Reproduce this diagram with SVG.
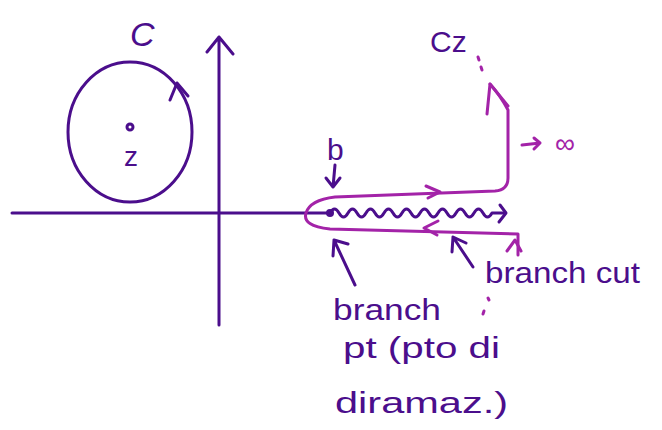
<svg xmlns="http://www.w3.org/2000/svg" width="662" height="430" viewBox="0 0 662 430">
<style>
.d{fill:none;stroke:#4B0E8C;stroke-width:3;stroke-linecap:round;stroke-linejoin:round}
.m{fill:none;stroke:#A323A8;stroke-width:3;stroke-linecap:round;stroke-linejoin:round}
.t{fill:#4B0E8C;font-family:"Liberation Sans",sans-serif}
.tm{fill:#A323A8;font-family:"Liberation Sans",sans-serif}
</style>
<rect width="662" height="430" fill="#ffffff"/>
<g id="axes">
<path class="d" d="M12,213 L330,213"/>
<path class="d" d="M219,325 L219,37 M207,52 L219,37 L233,54"/>
</g>
<g id="circle-C">
<ellipse class="d" cx="130" cy="132" rx="62" ry="70"/>
<path class="d" stroke-width="4" d="M170,100 L177,83 L188,96"/>
<text class="t" x="130" y="46" font-size="34" font-style="italic">C</text>
<circle cx="130" cy="127" r="3" fill="none" stroke="#4B0E8C" stroke-width="3"/>
<text class="t" x="124" y="166" font-size="28">z</text>
</g>
<g id="branch-cut">
<circle cx="330" cy="213" r="4" fill="#4B0E8C"/>
<path class="d" stroke-width="4" d="M330,213 q4.5,-8 9,0 t9,0 t9,0 t9,0 t9,0 t9,0 t9,0 t9,0 t9,0 t9,0 t9,0 t9,0 t9,0 t9,0 t9,0 t9,0 t9,0 t9,0 L503,213"/>
<path class="d" d="M500,205 L506,213 L499,222"/>
</g>
<g id="contour-Cz">
<path class="m" d="M518,255 L518,234 L330,229 Q302,226 306,213 Q310,200 335,197 L495,191 Q508,190 508,178 L508,110 Q500,95 490,84"/>
<path class="m" d="M426,186 L440,192 L428,198"/>
<path class="m" d="M438,221 L424,228 L437,235"/>
<path class="m" d="M507,251 L515,240 L521,251"/>
<path class="m" stroke-width="4" d="M487,114 L490,84 L508,106"/>
<path class="m" d="M478,57 L479,60 M481,67 L482,70"/>
<path class="m" d="M488,298 L489,300 M484,311 L483,314"/>
<text class="t" x="430" y="52" font-size="30">Cz</text>
</g>
<g id="to-infinity">
<path class="m" d="M522,145 L540,143 M534,138 L540,143 L534,149"/>
<text class="tm" x="555" y="153" font-size="28">∞</text>
</g>
<g id="label-b">
<text class="t" x="327" y="160" font-size="30">b</text>
<path class="d" d="M335,165 L333,187 M326,178 L333,187 L340,178"/>
</g>
<g id="label-branch-pt">
<path class="d" d="M355,285 L334,240 M333,256 L334,240 L348,244"/>
<text class="t" x="333" y="320" font-size="30" textLength="108" lengthAdjust="spacingAndGlyphs">branch</text>
<text class="t" x="343" y="358" font-size="30" textLength="157" lengthAdjust="spacingAndGlyphs">pt (pto di</text>
<text class="t" x="335" y="413" font-size="30" textLength="173" lengthAdjust="spacingAndGlyphs">diramaz.)</text>
</g>
<g id="label-branch-cut">
<path class="d" d="M473,267 L453,237 M452,252 L453,237 L466,243"/>
<text class="t" x="485" y="283" font-size="30" textLength="155" lengthAdjust="spacingAndGlyphs">branch cut</text>
</g>
</svg>
